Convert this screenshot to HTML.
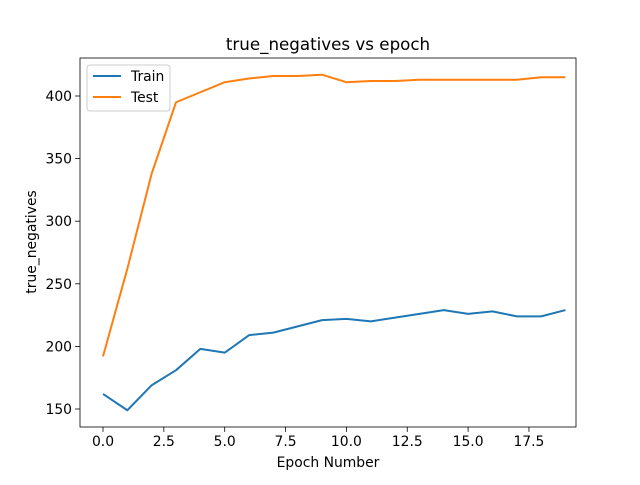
<!DOCTYPE html>
<html><head><meta charset="utf-8"><style>
body{margin:0;background:#fff;font-family:"Liberation Sans","DejaVu Sans",sans-serif;}
svg text{font-family:"DejaVu Sans","Liberation Sans",sans-serif;}
</style></head><body>
<svg id="chart" width="640" height="480" xmlns="http://www.w3.org/2000/svg"></svg>
<script>
const epochs=[0,1,2,3,4,5,6,7,8,9,10,11,12,13,14,15,16,17,18,19];
const trainValues=[162,149,169,181,198,195,209,211,216,221,222,220,223,226,229,226,228,224,224,229];
const testValues=[192,262,338,395,403,411,414,416,416,417,411,412,412,413,413,413,413,413,415,415];
const xTicks=[0,2.5,5,7.5,10,12.5,15,17.5];
const xTickLabels=["0.0","2.5","5.0","7.5","10.0","12.5","15.0","17.5"];
const yTicks=[150,200,250,300,350,400];
const yTickLabels=["150","200","250","300","350","400"];
const svg=document.getElementById('chart');
const NS='http://www.w3.org/2000/svg';
const L=80,R=576,T=58,B=427;
const xs=v=>103+v*24.34;
const ys=v=>96+(400-v)*1.252;
function mk(tag,attrs,parent){const e=document.createElementNS(NS,tag);for(const k in attrs)e.setAttribute(k,attrs[k]);(parent||svg).appendChild(e);return e;}
const frame=mk('rect',{x:L,y:T,width:R-L,height:B-T,fill:'none',stroke:'#000','stroke-width':0.8});


xTicks.forEach((t,i)=>{const x=xs(t);
mk('line',{x1:x,x2:x,y1:B,y2:B+4.9,stroke:'#000','stroke-width':0.8});
const tx=mk('text',{x:x,y:B+19,'font-size':13.9,'text-anchor':'middle'});tx.textContent=xTickLabels[i];

});
yTicks.forEach((t,i)=>{const y=ys(t);
mk('line',{x1:L-4.9,x2:L,y1:y,y2:y,stroke:'#000','stroke-width':0.8});
const tx=mk('text',{x:L-8,y:y+5,'font-size':13.9,'text-anchor':'end'});tx.textContent=yTickLabels[i];

});
function line(vals,color,name){const p=mk('polyline',{points:vals.map((v,i)=>xs(epochs[i])+','+ys(v)).join(' '),fill:'none',stroke:color,'stroke-width':2,'stroke-linejoin':'round'});

}
line(trainValues,'#1f77b4','train-line');
line(testValues,'#ff7f0e','test-line');
const title=mk('text',{x:328,y:50,'font-size':16.7,'text-anchor':'middle'});title.textContent='true_negatives vs epoch';


const xl=mk('text',{x:328,y:467,'font-size':13.9,'text-anchor':'middle'});xl.textContent='Epoch Number';


const yl=mk('text',{x:36,y:242,'font-size':13.9,'text-anchor':'middle',transform:'rotate(-90 36 242)'});yl.textContent='true_negatives';


const lg=mk('g',{});


mk('rect',{x:87,y:65,width:83,height:46,rx:3,fill:'#fff',stroke:'#ccc','fill-opacity':0.8},lg);
[['Train','#1f77b4',76],['Test','#ff7f0e',97]].forEach(([n,c,y])=>{
mk('line',{x1:93,x2:121,y1:y,y2:y,stroke:c,'stroke-width':2},lg);
const t=mk('text',{x:131,y:y+5,'font-size':13.9},lg);t.textContent=n;

});
</script>
</body></html>
